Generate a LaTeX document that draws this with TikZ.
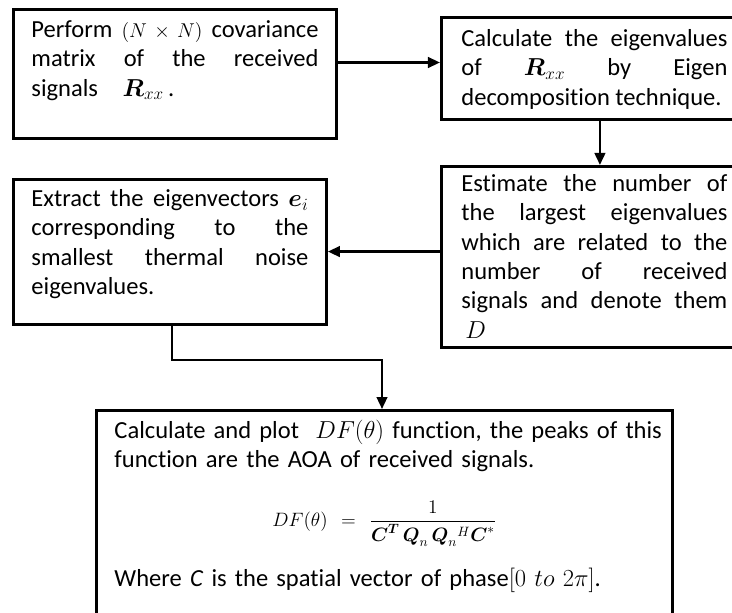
\documentclass[tikz,border=0pt]{standalone}
\usepackage{fix-cm}
\usepackage{amsmath}
\usepackage{fontspec}
\setmainfont{Carlito}[Ligatures=NoCommon]
\usetikzlibrary{arrows.meta,positioning}

\begin{document}
\begin{tikzpicture}[
        box/.style={draw, line width=2.2pt, align=justify, anchor=north west,
          font=\fontsize{18.4}{22}\selectfont, inner ysep=0pt, inner xsep=13.5pt},
        arr/.style={-{Triangle[length=9pt,width=8pt]}, line width=1.7pt}
      ]
        \useasboundingbox (0,0) rectangle (549pt,-459.75pt);
        \node[box, text width=215.25pt, text height=21pt, text depth=75.75pt] (a) at (9pt,-6pt)
          {Perform {\fontsize{15}{22}\selectfont$(N\times N)$} covariance\linebreak matrix of the received\linebreak signals\quad$\boldsymbol{R}_{xx}$\,.};
        \node[box, inner xsep=15pt, text width=199.5pt, text height=21.75pt, text depth=54.75pt,
          right=76.5pt of a.north east, anchor=north west, yshift=-6pt] (b)
          {Calculate the eigenvalues\linebreak of $\boldsymbol{R}_{xx}$ by Eigen\linebreak decomposition technique.};
        \node[box, inner xsep=15pt, text width=199.5pt, text height=18.75pt, text depth=117pt,
          below=33pt of b.south west, anchor=north west] (c)
          {Estimate the number of\linebreak the largest eigenvalues\linebreak which are related to the\linebreak number of received\linebreak signals and denote them\linebreak\hspace*{3pt}$D$};
        \node[box, text width=207.75pt, text height=20.25pt, text depth=88.5pt] (d) at (9pt,-133.5pt)
          {Extract the eigenvectors $\boldsymbol{e}_i$\linebreak corresponding to the\linebreak smallest thermal noise\linebreak eigenvalues.};
        \node[box, align=left, text width=405pt, text height=21pt, text depth=132pt] (e) at (71.25pt,-306.75pt)
          {\mbox{Calculate and plot\ \ $DF(\theta)$ function, the peaks of this}\\
           function are the AOA of received signals.\\[22pt]
           \makebox[\linewidth][c]{\smash{\fontsize{14.5}{22}\selectfont$DF(\theta)\ =\ \dfrac{1}{\boldsymbol{C}^{\boldsymbol{T}}\,\boldsymbol{Q}_n\,\boldsymbol{Q}_n{}^{H}\boldsymbol{C}^{*}}$}}\\[23pt]
           Where \textit{C} is the spatial vector of phase$[0\ to\ 2\pi]$.};
        \draw[arr] ([yshift=8.6pt]a.east) -- ([yshift=8.6pt]a.east -| b.west);
        \draw[arr] ([xshift=120pt]b.south west) -- ([xshift=120pt]b.south west |- c.north);
        \draw[arr] ([yshift=4pt]c.west) -- ([yshift=4pt]c.west -| d.east);
        \draw[arr] ([xshift=120pt]d.south west) -- ++(0,-25.5pt) -| ([xshift=215.25pt]e.north west);
      \end{tikzpicture}
\end{document}
